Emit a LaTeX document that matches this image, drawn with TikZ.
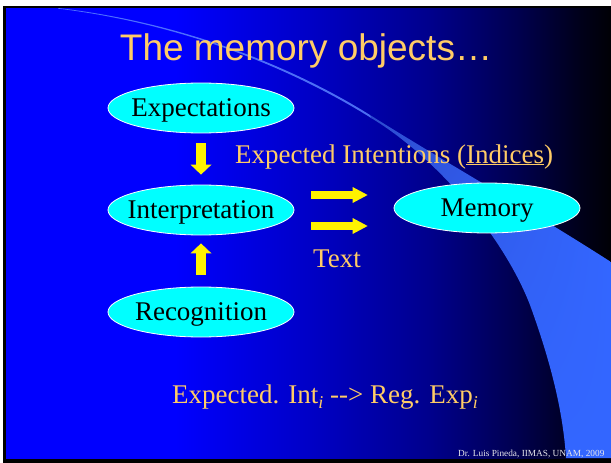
\documentclass[tikz,border=0pt]{standalone}
\usepackage{fontspec}
\setmainfont{Liberation Serif}
\newfontfamily\arialf{Liberation Sans}
\usetikzlibrary{shapes.geometric,arrows.meta,shadings}
\definecolor{gold}{RGB}{255,204,102}
\definecolor{aqua}{RGB}{0,255,255}
\definecolor{swoosh}{RGB}{51,102,255}
\definecolor{swooshdark}{RGB}{45,75,205}
\definecolor{tailc}{RGB}{90,130,255}
\definecolor{footc}{RGB}{230,230,235}
\pgfdeclarehorizontalshading{bgsh}{100bp}{rgb(0bp)=(0,0,1); rgb(39bp)=(0,0,1); rgb(50bp)=(0,0,0.78); rgb(60bp)=(0,0,0.55); rgb(67.5bp)=(0,0,0.3); rgb(72.5bp)=(0,0,0.1); rgb(75bp)=(0,0,0.02); rgb(100bp)=(0,0,0.02)}
\newcommand{\subi}{\raisebox{-0.22em}{\fontsize{18}{18}\selectfont\itshape i}}
\newcommand{\ovtext}[1]{\makebox[0pt]{#1}}
\begin{document}
\begin{tikzpicture}[x=1pt,y=-1pt,
  oval/.style={ellipse, fill=aqua, draw=white, line width=0.8pt, minimum width=186pt, minimum height=50pt, inner sep=0pt, text height=18pt, text depth=2pt, font=\fontsize{27}{27}\selectfont, text=black},
  goldtxt/.style={text=gold, font=\fontsize{27}{27}\selectfont, inner sep=0pt},
  vblock/.style={draw=yellow, line width=10pt, -{Triangle[width=21pt,length=10pt,line width=0pt]}},
  hblock/.style={draw=yellow, line width=8pt, -{Triangle[width=16pt,length=15pt,line width=0pt]}}
]
\useasboundingbox (0,0) rectangle (611,463);
\fill[white] (0,0) rectangle (611,463);
\fill[black] (3,6) rectangle (611,463);
\shade[shading=bgsh] (6,8) rectangle (611,458);
% swoosh tail
\fill[tailc, opacity=0.85] (58,8) .. controls (180,22) and (290,65) .. (370,115) -- (372,118.5) .. controls (290,67) and (180,23.5) .. (58,8.6) -- cycle;
% swoosh body
\shade[upper left=swooshdark, upper right=swoosh, lower left=swoosh, lower right=swoosh]
  (370,115) .. controls (450,165) and (530,210) .. (611,262) -- (611,458) -- (566,458)
  .. controls (563,410) and (550,360) .. (530,305) .. controls (505,240) and (440,160) .. (372,118.5) -- cycle;
% title
\node[text=gold, font=\arialf\fontsize{37}{37}\selectfont, anchor=base, inner sep=0pt] (title) at (306,60) {The memory objects…};
% ovals
\node[oval] (exp) at (201,108) {\ovtext{Expectations}};
\node[oval] (int) at (201,210) {\ovtext{Interpretation}};
\node[oval] (rec) at (201,312) {\ovtext{Recognition}};
\node[oval] (mem) at (487,208) {\ovtext{Memory}};
% labels
\node[goldtxt, anchor=base west] (ei) at (235,163) {Expected Intentions (\underline{Indices})};
\node[goldtxt, anchor=base west] (txt) at (313,267) {Text};
\node[goldtxt, anchor=base west] (regexp) at (172,403) {Expected. Int\subi{} {-}{-}> Reg. Exp\subi};
\node[text=footc, font=\fontsize{9.3}{9.3}\selectfont, anchor=base west, inner sep=0pt] (foot) at (458,456) {Dr. Luis Pineda, IIMAS, UNAM, 2009};
% arrows
\draw[vblock] ([yshift=-10pt]exp.south) -- ([yshift=10pt]int.north);
\draw[vblock] ([yshift=12pt]rec.north) -- ([yshift=-8pt]int.south);
\draw[hblock] ([xshift=17pt,yshift=15pt]int.east) -- ([xshift=-26pt,yshift=13pt]mem.west);
\draw[hblock] ([xshift=17pt,yshift=-16pt]int.east) -- ([xshift=-26pt,yshift=-18pt]mem.west);
\end{tikzpicture}
\end{document}
